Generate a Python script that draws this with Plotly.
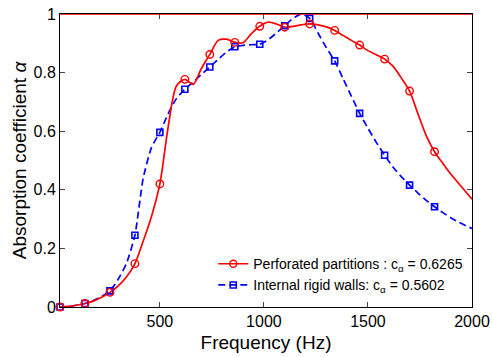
import plotly.graph_objects as go

# Dense curve samples (Hz)
freq = [20, 60, 100, 140, 180, 220, 260, 300, 340, 380, 420, 460, 500, 540, 580, 620,
        660, 700, 740, 780, 820, 860, 900, 940, 980, 1020, 1060, 1100, 1140, 1180, 1220,
        1260, 1300, 1340, 1380, 1420, 1460, 1500, 1540, 1580, 1620, 1660, 1700, 1740,
        1780, 1820, 1860, 1900, 1940, 1980, 2000]

perforated = [0.0, 0.002, 0.006, 0.012, 0.020, 0.033, 0.050, 0.072, 0.103, 0.148, 0.225,
              0.31, 0.42, 0.615, 0.755, 0.777, 0.76, 0.815, 0.862, 0.910, 0.914, 0.903,
              0.902, 0.933, 0.958, 0.972, 0.966, 0.955, 0.958, 0.963, 0.966, 0.963, 0.956,
              0.944, 0.927, 0.91, 0.894, 0.875, 0.861, 0.846, 0.822, 0.782, 0.737, 0.66,
              0.585, 0.530, 0.49, 0.452, 0.418, 0.385, 0.368]

rigid = [0.0, 0.002, 0.006, 0.012, 0.022, 0.036, 0.055, 0.095, 0.15, 0.245, 0.44, 0.545,
         0.596, 0.66, 0.712, 0.743, 0.768, 0.794, 0.819, 0.845, 0.870, 0.888, 0.893, 0.895,
         0.897, 0.912, 0.935, 0.960, 0.985, 1.0, 0.985, 0.935, 0.885, 0.840, 0.78, 0.72,
         0.661, 0.61, 0.562, 0.518, 0.478, 0.445, 0.416, 0.389, 0.364, 0.342, 0.322, 0.304,
         0.288, 0.274, 0.268]

# Marker samples
marker_freq = [20, 140, 260, 380, 500, 620, 740, 860, 980, 1100, 1220, 1340, 1460, 1580, 1700, 1820]
perforated_markers = [0.0, 0.012, 0.050, 0.148, 0.42, 0.777, 0.862, 0.903, 0.958, 0.955,
                      0.966, 0.944, 0.894, 0.846, 0.737, 0.530]
rigid_markers = [0.0, 0.012, 0.055, 0.245, 0.596, 0.743, 0.819, 0.888, 0.897, 0.960,
                 0.985, 0.840, 0.661, 0.518, 0.416, 0.342]

names = ["Perforated partitions : c<sub>α</sub> = 0.6265",
         "Internal rigid walls: c<sub>α</sub> = 0.5602"]

x_ticks = [500, 1000, 1500, 2000]
y_ticks = [0, 0.2, 0.4, 0.6, 0.8, 1]
y_ticktext = ["0", "0.2", "0.4", "0.6", "0.8", "1"]

RED = "#ff0000"
BLUE = "#0000ff"
DASH = "7px,4px"

fig = go.Figure()

# curves
fig.add_trace(go.Scatter(x=freq, y=rigid, mode="lines", showlegend=False,
                         line=dict(color=BLUE, width=1.7, dash=DASH, shape="spline", smoothing=0.6)))
fig.add_trace(go.Scatter(x=freq, y=perforated, mode="lines", showlegend=False,
                         line=dict(color=RED, width=1.7, shape="spline", smoothing=0.8)))
# markers
fig.add_trace(go.Scatter(x=marker_freq, y=rigid_markers, mode="markers", showlegend=False,
                         cliponaxis=False,
                         marker=dict(symbol="square-open", size=6, color=BLUE, line=dict(width=1.6))))
fig.add_trace(go.Scatter(x=marker_freq, y=perforated_markers, mode="markers", showlegend=False,
                         cliponaxis=False,
                         marker=dict(symbol="circle-open", size=7.5, color=RED, line=dict(width=1.4))))
# legend entries
fig.add_trace(go.Scatter(x=[None], y=[None], mode="lines+markers", name=names[0], legendgroup="a",
                         line=dict(color=RED, width=1.7),
                         marker=dict(symbol="circle-open", size=7, color=RED, line=dict(width=1.4))))
fig.add_trace(go.Scatter(x=[None], y=[None], mode="lines+markers", name=names[1], legendgroup="b",
                         line=dict(color=BLUE, width=1.7, dash=DASH),
                         marker=dict(symbol="square-open", size=6, color=BLUE, line=dict(width=1.6))))

fig.add_shape(type="line", xref="paper", x0=0, x1=1, yref="y", y0=1, y1=1,
              line=dict(color=RED, width=1.5), layer="above")

FONT = "Liberation Sans, Arial, Helvetica, sans-serif"

fig.update_layout(
    width=492, height=357,
    margin=dict(l=60, r=20, t=14, b=50, autoexpand=False),
    paper_bgcolor="white", plot_bgcolor="white",
    font=dict(family=FONT, color="black", size=16),
    legend=dict(x=0.372, y=0.02, xanchor="left", yanchor="bottom",
                bgcolor="rgba(255,255,255,0)", borderwidth=0,
                font=dict(size=14, family=FONT), tracegroupgap=0,
                traceorder="grouped"),
    xaxis=dict(range=[20, 2000], tickvals=x_ticks, ticks="inside", ticklen=5,
               showline=True, linecolor="black", linewidth=1, mirror="ticks",
               showgrid=False, zeroline=False, tickfont=dict(size=16), automargin=False,
               ticklabeloverflow="allow",
               title=dict(text="Frequency (Hz)", font=dict(size=19), standoff=6)),
    yaxis=dict(range=[0, 1], tickvals=y_ticks, ticktext=y_ticktext, ticks="inside", ticklen=5,
               showline=True, linecolor="black", linewidth=1, mirror="ticks",
               showgrid=False, zeroline=False, tickfont=dict(size=16), automargin=False,
               ticklabeloverflow="allow",
               title=dict(text="Absorption coefficient <i>α</i>", font=dict(size=19), standoff=1)),
)

# remove the default 8px page margin so the figure fills the 492x357 window
fig.write_html("out.html", config={"displayModeBar": False},
               post_script="document.body.style.margin='0';")
